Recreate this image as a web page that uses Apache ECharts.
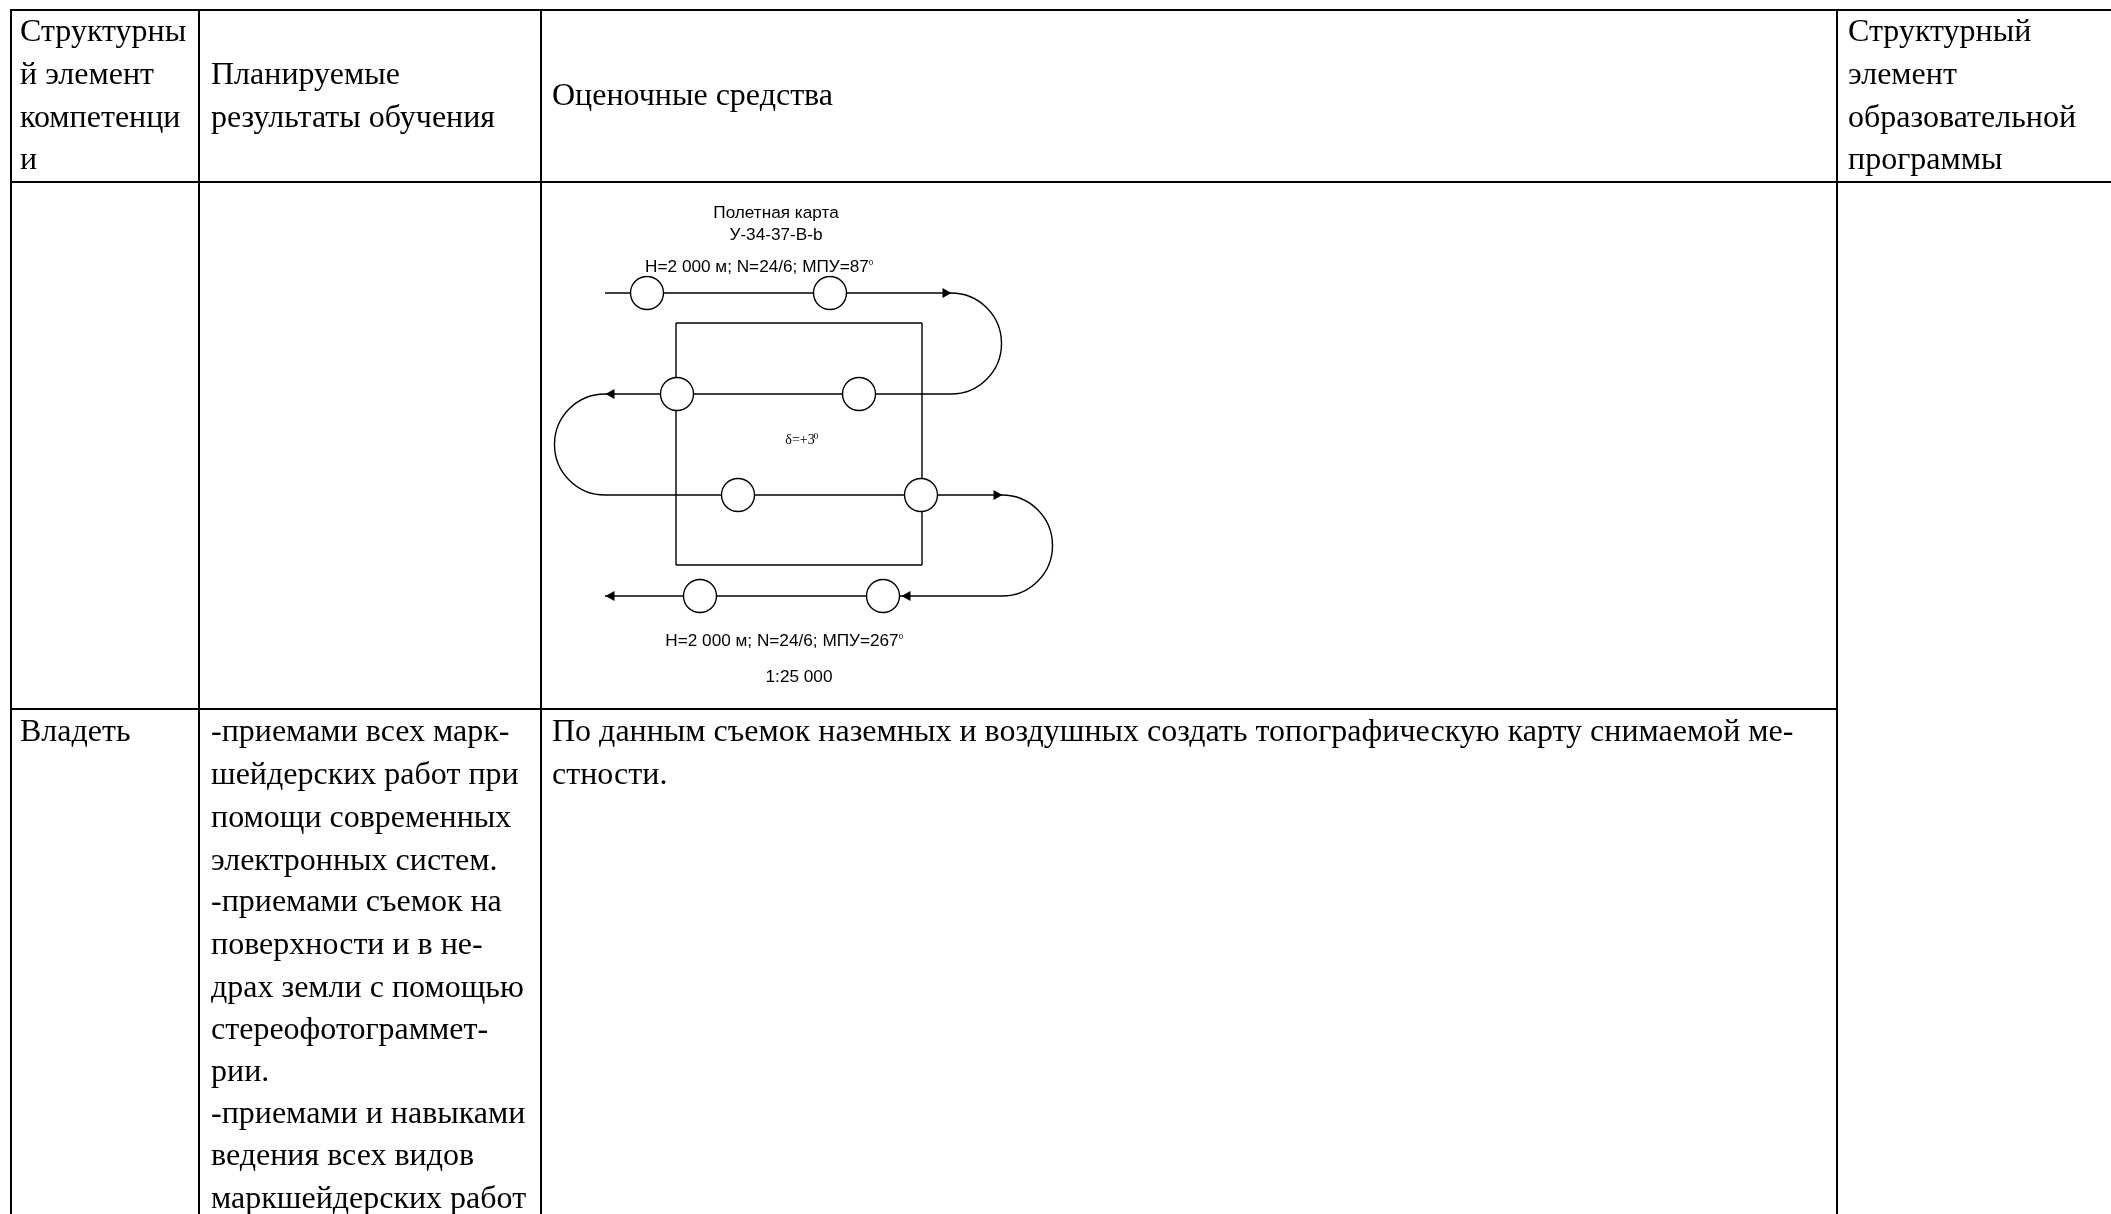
<!DOCTYPE html>
<html>
<head>
<meta charset="utf-8">
<title>Оценочные средства</title>
<script src="https://cdn.jsdelivr.net/npm/echarts@6/dist/echarts.min.js"></script>
<style>
  html, body { margin: 0; padding: 0; background: #fff; }
  #chart { width: 2111px; height: 1214px; }
</style>
</head>
<body>
<div id="chart"></div>
<script>
// table rules: x1, y1, x2, y2
const tableRules = [
  [10, 10, 2111, 10],
  [10, 182, 2111, 182],
  [11, 10, 11, 1214],
  [199, 10, 199, 1214],
  [541, 10, 541, 1214],
  [1837, 10, 1837, 1214],
  [11, 709, 1837, 709]
];

// cell text: x, y of line centre, text
const cellLines = [
  [20, 33, "Структурны"],
  [20, 76, "й элемент"],
  [20, 119, "компетенци"],
  [20, 161, "и"],
  [211, 76, "Планируемые"],
  [211, 119, "результаты обучения"],
  [552, 97, "Оценочные средства"],
  [1848, 33, "Структурный"],
  [1848, 76, "элемент"],
  [1848, 119, "образовательной"],
  [1848, 161, "программы"],
  [20, 733, "Владеть"],
  [211, 733, "-приемами всех марк-"],
  [211, 776, "шейдерских работ при"],
  [211, 819, "помощи современных"],
  [211, 862, "электронных систем."],
  [211, 903, "-приемами съемок на"],
  [211, 946, "поверхности и в не-"],
  [211, 989, "драх земли с помощью"],
  [211, 1031, "стереофотограммет-"],
  [211, 1073, "рии."],
  [211, 1115, "-приемами и навыками"],
  [211, 1157, "ведения всех видов"],
  [211, 1200, "маркшейдерских работ"],
  [552, 733, "По данным съемок наземных и воздушных создать топографическую карту снимаемой ме-"],
  [552, 776, "стности."]
];

// flight map: straight legs and the survey block
const flightLegs = [
  [605, 293, 951, 293],
  [605, 394, 951, 394],
  [605, 495, 1002, 495],
  [605, 596, 1002, 596],
  [676, 323, 922, 323],
  [922, 323, 922, 565],
  [922, 565, 676, 565],
  [676, 565, 676, 323]
];
// turns: centre x, centre y, radius, side (1 right, -1 left)
const flightTurns = [
  [951, 343.5, 50.5, 1],
  [605, 444.5, 50.5, -1],
  [1002, 545.5, 50.5, 1]
];
// photo stations on the legs
const stationX = [647, 830, 677, 859, 738, 921, 700, 883];
const stationY = [293, 293, 394, 394, 495, 495, 596, 596];
// arrow heads: x, y, rotation
const arrowHeads = [
  [947, 293, -90],
  [610, 394, 90],
  [998, 495, -90],
  [906, 596, 90],
  [610, 596, 90]
];
const mapLabels = [
  [776, 213, "Полетная карта"],
  [776, 235, "У-34-37-В-b"],
  [757, 267, "Н=2 000 м; N=24/6; МПУ=87"],
  [782, 641, "Н=2 000 м; N=24/6; МПУ=267"],
  [799, 677, "1:25 000"]
];
const mapDegrees = [[871, 263, "0"], [901, 637, "0"]];
const blockLabels = [[800, 440, "δ=+3"]];
const blockDegrees = [[816, 437, "0"]];

function segmentSeries(name, rows, width) {
  return {
    name: name,
    type: "custom",
    coordinateSystem: "cartesian2d",
    silent: true,
    z: 2,
    data: rows,
    renderItem: (params, api) => {
      const a = api.coord([api.value(0), api.value(1)]);
      const b = api.coord([api.value(2), api.value(3)]);
      return {
        type: "line",
        shape: { x1: a[0], y1: a[1], x2: b[0], y2: b[1] },
        style: { stroke: "#000", lineWidth: width }
      };
    }
  };
}

function textSeries(name, rows, font, align, background) {
  return {
    name: name,
    type: "custom",
    coordinateSystem: "cartesian2d",
    silent: true,
    z: 5,
    encode: { x: 0, y: 1 },
    data: rows,
    renderItem: (params, api) => {
      const p = api.coord([api.value(0), api.value(1)]);
      return {
        type: "text",
        x: p[0],
        y: p[1],
        style: {
          text: rows[params.dataIndex][2],
          font: font,
          fill: "#000",
          align: align,
          verticalAlign: "middle",
          backgroundColor: background || "transparent"
        }
      };
    }
  };
}

const chart = echarts.init(document.getElementById("chart"));
chart.setOption({
  animation: false,
  backgroundColor: "#fff",
  grid: { left: 0, right: 0, top: 0, bottom: 0 },
  xAxis: { type: "value", min: 0, max: 2111, show: false },
  yAxis: { type: "value", min: 0, max: 1214, inverse: true, show: false },
  series: [
    segmentSeries("tableRules", tableRules, 2),
    segmentSeries("flightLegs", flightLegs, 1.4),
    {
      name: "flightTurns",
      type: "custom",
      coordinateSystem: "cartesian2d",
      silent: true,
      z: 2,
      data: flightTurns,
      renderItem: (params, api) => {
        const c = api.coord([api.value(0), api.value(1)]);
        const right = api.value(3) > 0;
        return {
          type: "arc",
          shape: {
            cx: c[0],
            cy: c[1],
            r: api.value(2),
            startAngle: right ? -Math.PI / 2 : Math.PI / 2,
            endAngle: right ? Math.PI / 2 : Math.PI * 3 / 2,
            clockwise: true
          },
          style: { stroke: "#000", fill: "none", lineWidth: 1.4 }
        };
      }
    },
    {
      name: "stations",
      type: "scatter",
      silent: true,
      z: 3,
      symbol: "circle",
      symbolSize: 33,
      itemStyle: { color: "#fff", borderColor: "#000", borderWidth: 1.4, opacity: 1 },
      data: stationX.map((x, i) => [x, stationY[i]])
    },
    {
      name: "arrowHeads",
      type: "scatter",
      silent: true,
      z: 4,
      symbol: "triangle",
      symbolSize: [10, 9],
      symbolRotate: (v) => v[2],
      itemStyle: { color: "#000", opacity: 1 },
      data: arrowHeads
    },
    textSeries("cellText", cellLines, "32px 'Liberation Serif'", "left"),
    textSeries("mapText", mapLabels, "17.2px 'Liberation Sans'", "center", "#fff"),
    textSeries("mapDegrees", mapDegrees, "8px 'Liberation Sans'", "center"),
    textSeries("blockText", blockLabels, "14px 'Liberation Serif'", "center"),
    textSeries("blockDegrees", blockDegrees, "9px 'Liberation Serif'", "center")
  ]
});
</script>
</body>
</html>
